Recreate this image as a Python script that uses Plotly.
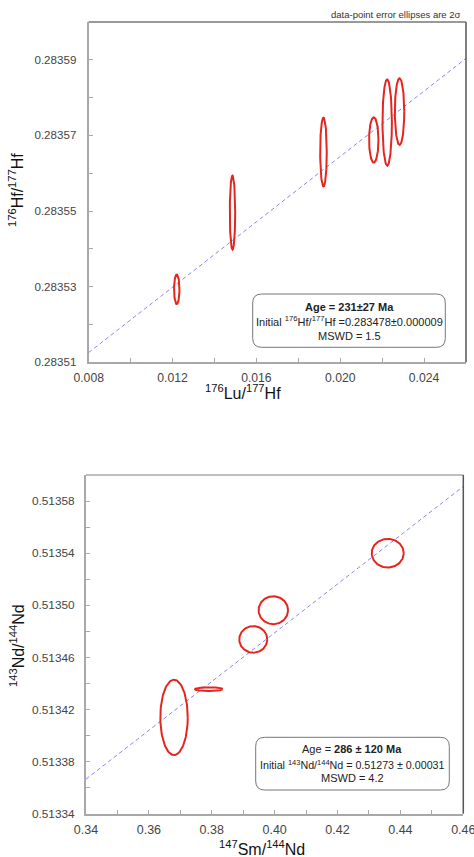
import numpy as np
import plotly.graph_objects as go

W, H = 474, 857

# ---------------- Data: Lu-Hf ----------------
lu_hf_x = [0.0122, 0.01486, 0.0192, 0.0216, 0.02224, 0.02283]          # 176Lu/177Hf
hf_hf_y = [0.2835293, 0.2835496, 0.2835656, 0.2835688, 0.2835734, 0.2835763]  # 176Hf/177Hf
lu_hf_err = [0.000129, 0.000129, 0.000157, 0.000224, 0.000224, 0.000224]
hf_hf_err = [3.9e-6, 9.8e-6, 9.1e-6, 6.0e-6, 11.4e-6, 8.8e-6]
hf_age_ma = 231
hf_initial = 0.283478
lambda_lu = 1.867e-11
hf_xticks = [0.008, 0.012, 0.016, 0.020, 0.024]
hf_xticklabels = ["0.008", "0.012", "0.016", "0.020", "0.024"]
hf_yticks = [0.28351, 0.28353, 0.28355, 0.28357, 0.28359]
hf_yticklabels = ["0.28351", "0.28353", "0.28355", "0.28357", "0.28359"]

# ---------------- Data: Sm-Nd ----------------
sm_nd_x = [0.43596, 0.39958, 0.3932, 0.37906, 0.3680]                 # 147Sm/144Nd
nd_nd_y = [0.51354, 0.5134962, 0.5134738, 0.5134356, 0.5134139]        # 143Nd/144Nd
sm_nd_err = [0.00509, 0.00468, 0.00445, 0.00439, 0.00436]
nd_nd_err = [11.0e-6, 10.7e-6, 10.2e-6, 1.5e-6, 28.9e-6]
nd_age_ma = 286
nd_initial = 0.51273
lambda_sm = 6.54e-12
nd_xticks = [0.34, 0.36, 0.38, 0.40, 0.42, 0.44, 0.46]
nd_xticklabels = ["0.34", "0.36", "0.38", "0.40", "0.42", "0.44", "0.46"]
nd_yticks = [0.51334, 0.51338, 0.51342, 0.51346, 0.51350, 0.51354, 0.51358]
nd_yticklabels = ["0.51334", "0.51338", "0.51342", "0.51346", "0.51350", "0.51354", "0.51358"]


def px(x):
    return x / W


def py(y):
    return 1 - y / H


fig = go.Figure()

RED = "#e3261f"
BLUE = "#8585f5"
t = np.linspace(0, 2 * np.pi, 120)


def add_ellipses(xs, ys, ex, ey, xa, ya):
    for x, y, a, b in zip(xs, ys, ex, ey):
        fig.add_trace(go.Scatter(x=x + a * np.cos(t), y=y + b * np.sin(t), mode="lines",
                                 line=dict(color=RED, width=2), xaxis=xa, yaxis=ya,
                                 hoverinfo="skip", showlegend=False))


def add_isochron(age, init, lam, xr, xa, ya):
    slope = np.exp(lam * age * 1e6) - 1
    xs = np.array(xr)
    fig.add_trace(go.Scatter(x=xs, y=init + slope * xs, mode="lines",
                             line=dict(color=BLUE, width=1, dash="4px,3px"),
                             xaxis=xa, yaxis=ya, hoverinfo="skip", showlegend=False))


hf_xrange = [0.008, 0.026]
hf_yrange = [0.28351, 0.28360]
nd_xrange = [0.34, 0.46]
nd_yrange = [0.51334, 0.51360]

add_isochron(hf_age_ma, hf_initial, lambda_lu, hf_xrange, "x", "y")
add_ellipses(lu_hf_x, hf_hf_y, lu_hf_err, hf_hf_err, "x", "y")
add_isochron(nd_age_ma, nd_initial, lambda_sm, nd_xrange, "x2", "y2")
add_ellipses(sm_nd_x, nd_nd_y, sm_nd_err, nd_nd_err, "x2", "y2")

FONT = "Liberation Sans, Arial, sans-serif"
axcommon = dict(showgrid=False, zeroline=False, showline=True, linecolor="#a8a8a8", linewidth=2,
                ticks="inside", ticklen=4, tickwidth=1, tickcolor="#a8a8a8",
                automargin=False, tickmode="array", ticklabeloverflow="allow")
xfont = dict(family=FONT, size=12.2, color="#444")
yfont = dict(family=FONT, size=11.6, color="#444")


def minor(d):
    return dict(ticks="inside", ticklen=4, tickwidth=1, tickcolor="#a8a8a8", dtick=d)


fig.update_layout(
    template="none",
    width=W, height=H, margin=dict(l=0, r=0, t=0, b=0, pad=0), autosize=False,
    paper_bgcolor="white", plot_bgcolor="white",
    xaxis=dict(domain=[px(88.7), px(466)], range=hf_xrange, anchor="y",
               tickvals=hf_xticks, ticktext=hf_xticklabels, ticklabelstandoff=3,
               tickfont=xfont, minor=minor(0.002), **axcommon),
    yaxis=dict(domain=[py(362.3), py(22)], range=hf_yrange, anchor="x",
               tickvals=hf_yticks, ticktext=hf_yticklabels, ticklabelstandoff=8,
               tickfont=yfont, minor=minor(0.00001), **axcommon),
    xaxis2=dict(domain=[px(86), px(463.3)], range=[nd_xrange[0], nd_xrange[1] + 1e-6], anchor="y2",
                tickvals=nd_xticks, ticktext=nd_xticklabels, ticklabelstandoff=3,
                tickfont=dict(xfont, size=12.5), minor=minor(0.01), **axcommon),
    yaxis2=dict(domain=[py(813.7), py(475)], range=nd_yrange, anchor="x2",
                tickvals=nd_yticks, ticktext=nd_yticklabels, ticklabelstandoff=7,
                tickfont=dict(yfont, size=11.8), minor=minor(0.00002), **axcommon),
)

shapes = []
# top & right frame lines
for xa, ya, topc in (("x", "y", "#777"), ("x2", "y2", "#aaa")):
    shapes.append(dict(type="line", xref=f"{xa} domain", yref=f"{ya} domain", x0=0, x1=1, y0=1, y1=1,
                       line=dict(color=topc, width=1.5)))
    shapes.append(dict(type="line", xref=f"{xa} domain", yref=f"{ya} domain", x0=1, x1=1, y0=0, y1=1,
                       line=dict(color="#555", width=1.5)))


def rounded_rect(x0, y0, x1, y1, r):
    pts = [
        f"M {px(x0 + r)},{py(y0)}",
        f"L {px(x1 - r)},{py(y0)}",
        f"Q {px(x1)},{py(y0)} {px(x1)},{py(y0 + r)}",
        f"L {px(x1)},{py(y1 - r)}",
        f"Q {px(x1)},{py(y1)} {px(x1 - r)},{py(y1)}",
        f"L {px(x0 + r)},{py(y1)}",
        f"Q {px(x0)},{py(y1)} {px(x0)},{py(y1 - r)}",
        f"L {px(x0)},{py(y0 + r)}",
        f"Q {px(x0)},{py(y0)} {px(x0 + r)},{py(y0)}",
        "Z",
    ]
    return " ".join(pts)


shapes.append(dict(type="path", xref="paper", yref="paper", path=rounded_rect(252.7, 294, 445.3, 347.3, 9),
                   line=dict(color="#777", width=1), fillcolor="white"))
shapes.append(dict(type="path", xref="paper", yref="paper", path=rounded_rect(255.7, 737.3, 449.3, 790, 9),
                   line=dict(color="#777", width=1), fillcolor="white"))
fig.update_layout(shapes=shapes)


def ann(text, x, y, size=11, color="#222", angle=0, xanchor="center"):
    fig.add_annotation(text=text, x=px(x), y=py(y), xref="paper", yref="paper", showarrow=False,
                       xanchor=xanchor, yanchor="middle", textangle=angle,
                       font=dict(family=FONT, size=size, color=color))


ann("data-point error ellipses are 2σ", 463, 15, size=9.5, color="#333", xanchor="right")

# axis titles
ann("<sup>176</sup>Hf/<sup>177</sup>Hf", 16, 190, size=16, color="#111", angle=-90)
ann("<sup>176</sup>Lu/<sup>177</sup>Hf", 243, 391.5, size=16, color="#111")
ann("<sup>143</sup>Nd/<sup>144</sup>Nd", 17, 646, size=16, color="#111", angle=-90)
ann("<sup>147</sup>Sm/<sup>144</sup>Nd", 262, 848, size=16, color="#111")

# result boxes
ann(f"<b>Age = {hf_age_ma}±27 Ma</b>", 349, 306.7, size=11)
ann(f"Initial <sup>176</sup>Hf/<sup>177</sup>Hf ={hf_initial:.6f}±0.000009", 349, 321, size=11)
ann("MSWD = 1.5", 349, 335.5, size=11)

ann(f"Age = <b>{nd_age_ma} ± 120 Ma</b>", 352, 749.3, size=11)
ann(f"Initial <sup>143</sup>Nd/<sup>144</sup>Nd = {nd_initial:.5f} ± 0.00031", 352, 764.3, size=10.7)
ann("MSWD = 4.2", 352, 778.3, size=11)

fig.write_html(
    "out.html",
    config={"displayModeBar": False},
    post_script="document.body.style.margin='0';document.body.style.overflow='hidden';",
)
